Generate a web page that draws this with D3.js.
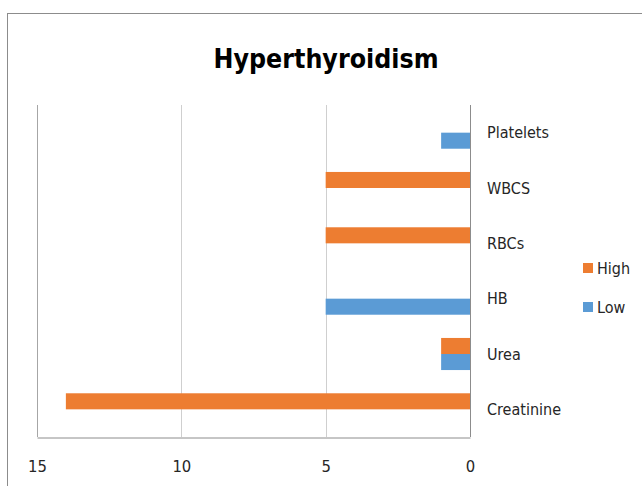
<!DOCTYPE html>
<html>
<head>
<meta charset="utf-8">
<script src="https://cdn.jsdelivr.net/npm/d3@7"></script>
<style>
  html, body { margin: 0; padding: 0; background: #fff; }
  svg { display: block; }
  text { font-family: "Liberation Sans Narrow", "DejaVu Sans Condensed", "Open Sans", sans-serif; fill: #262626; }
</style>
</head>
<body>
<svg id="chart" width="642" height="486"></svg>
<script>
// Lab findings in hyperthyroidism: counts of high and low results per test
const categories = ["Platelets", "WBCS", "RBCs", "HB", "Urea", "Creatinine"];
const seriesNames = ["High", "Low"];
const highValues = [0, 5, 5, 0, 1, 14];
const lowValues = [1, 0, 0, 5, 1, 0];
const tickValues = [0, 5, 10, 15];
const colors = { High: "#ED7D31", Low: "#5B9BD5" };

const svg = d3.select("#chart");

// chart frame
svg.append("rect")
  .attr("x", 7.5).attr("y", 13.5)
  .attr("width", 700).attr("height", 600)
  .attr("fill", "none").attr("stroke", "#8c8c8c").attr("stroke-width", 1);

// title
svg.append("text")
  .attr("x", 326).attr("y", 68)
  .attr("text-anchor", "middle")
  .style("font-size", "26.5px").style("font-weight", "bold").style("fill", "#000")
  .text("Hyperthyroidism");

const plot = { left: 37, right: 470, top: 105, bottom: 437 };

// reversed value axis: 15 on the left, 0 on the right
const x = d3.scaleLinear().domain([0, 15]).range([plot.right, plot.left]);

const y0 = d3.scaleBand().domain(categories)
  .range([plot.top, plot.bottom])
  .paddingInner(0.42).paddingOuter(0.21);
const y1 = d3.scaleBand().domain(seriesNames).range([0, y0.bandwidth()]);

// vertical gridlines
svg.append("g").selectAll("line")
  .data(tickValues.filter(v => v !== 0))
  .join("line")
  .attr("x1", d => Math.round(x(d)) + 0.5).attr("x2", d => Math.round(x(d)) + 0.5)
  .attr("y1", plot.top).attr("y2", plot.bottom)
  .attr("stroke", d => d === 15 ? "#a6a6a6" : "#cfcfcf").attr("stroke-width", 1);

// bars
const rows = categories.map((c, i) => ({ cat: c, High: highValues[i], Low: lowValues[i] }));
const groups = svg.append("g").selectAll("g")
  .data(rows).join("g")
  .attr("transform", d => `translate(0,${y0(d.cat)})`);

groups.selectAll("rect")
  .data(d => seriesNames.map(s => ({ s, v: d[s] })).filter(e => e.v > 0))
  .join("rect")
  .attr("x", d => x(d.v))
  .attr("width", d => x(0) - x(d.v))
  .attr("y", d => y1(d.s))
  .attr("height", y1.bandwidth())
  .attr("fill", d => colors[d.s]);

// category axis line at zero
svg.append("line")
  .attr("x1", x(0) + 0.5).attr("x2", x(0) + 0.5)
  .attr("y1", plot.top).attr("y2", plot.bottom)
  .attr("stroke", "#8c8c8c").attr("stroke-width", 1);

// category labels
svg.append("g").selectAll("text")
  .data(categories).join("text")
  .attr("x", 487)
  .attr("y", d => y0(d) + y0.bandwidth() / 2)
  .attr("dy", "0.35em")
  .style("font-size", "16px")
  .text(d => d);

// value axis
const xAxis = d3.axisBottom(x).tickValues(tickValues).tickSize(0).tickPadding(23).tickSizeOuter(0);
const gx = svg.append("g")
  .attr("transform", `translate(0,${plot.bottom + 0.5})`)
  .call(xAxis);
gx.select(".domain").attr("stroke", "#8c8c8c");
gx.selectAll("text")
  .style("font-size", "16.5px")
  .style("font-family", "'Liberation Sans Narrow', 'DejaVu Sans Condensed', sans-serif")
  .attr("fill", "#262626");

// legend
const legend = svg.append("g").selectAll("g")
  .data(seriesNames).join("g")
  .attr("transform", (d, i) => `translate(583,${268 + i * 39})`);
legend.append("rect")
  .attr("x", 0).attr("y", -5).attr("width", 10).attr("height", 10)
  .attr("fill", d => colors[d]);
legend.append("text")
  .attr("x", 14).attr("y", 0).attr("dy", "0.35em")
  .style("font-size", "16px")
  .text(d => d);
</script>
</body>
</html>
